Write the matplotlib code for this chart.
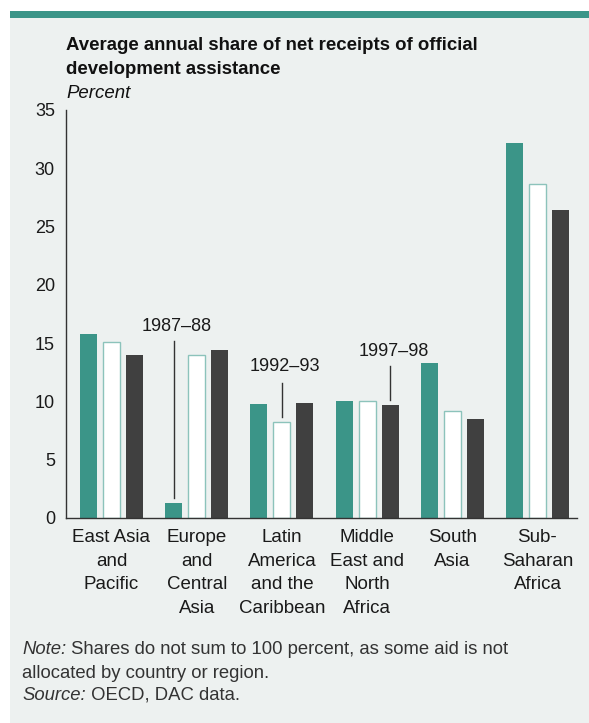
import matplotlib.pyplot as plt
import matplotlib.patches as mpatches
import numpy as np

plt.rcParams['font.family'] = ['Liberation Sans', 'DejaVu Sans']

regions = ['East Asia\nand\nPacific', 'Europe\nand\nCentral\nAsia',
           'Latin\nAmerica\nand the\nCaribbean', 'Middle\nEast and\nNorth\nAfrica',
           'South\nAsia', 'Sub-\nSaharan\nAfrica']
periods = ['1987–88', '1992–93', '1997–98']
share_1987 = [15.75, 1.25, 9.8, 10.0, 13.3, 32.2]
share_1992 = [15.1, 14.0, 8.25, 10.0, 9.2, 28.65]
share_1997 = [14.0, 14.4, 9.85, 9.7, 8.5, 26.45]
yticks = [0, 5, 10, 15, 20, 25, 30, 35]

teal = '#3b9588'
dark = '#404040'
bg = '#edf1f0'
txt = '#1a1a1a'

fig = plt.figure(figsize=(5.89, 7.23), dpi=100)
fig.patch.set_facecolor('white')

# grey panel + teal strip on top
fig.patches.append(mpatches.Rectangle((10/589, 0), 1, (723-18)/723, transform=fig.transFigure,
                                      facecolor=bg, edgecolor='none', zorder=-10))
fig.patches.append(mpatches.Rectangle((10/589, (723-18)/723), 1, 7/723, transform=fig.transFigure,
                                      facecolor=teal, edgecolor='none', zorder=-10))

ax = fig.add_axes([66/589, (723-518)/723, (577-66)/589, (518-110)/723])
ax.set_facecolor('none')

x = np.arange(len(regions))
w = 0.2
off = 0.27
ax.bar(x - off, share_1987, w, color=teal, edgecolor='none', zorder=2)
ax.bar(x, share_1992, w, color='white', edgecolor='#8cc3bb', linewidth=1.0, zorder=2)
ax.bar(x + off, share_1997, w, color=dark, edgecolor='none', zorder=2)

ax.set_xlim(-0.534, 5.464)
ax.set_ylim(0, 35)
ax.set_yticks(yticks)
ax.set_yticklabels([str(t) for t in yticks], fontsize=13)
ax.set_xticks(x)
ax.set_xticklabels(regions, fontsize=13.5, linespacing=1.5, va='top')
ax.tick_params(axis='both', length=0, colors=txt)
ax.tick_params(axis='y', pad=8)
ax.tick_params(axis='x', pad=8)
for s in ['top', 'right']:
    ax.spines[s].set_visible(False)
for s in ['left', 'bottom']:
    ax.spines[s].set_color('#333333')
    ax.spines[s].set_linewidth(1.0)

# period callouts
calls = [(1, -off, share_1987[1], 15.2, 16.4, 0),
         (2, 0, share_1992[2], 11.6, 13.0, 1),
         (3, off, share_1997[3], 13.0, 14.3, 2)]
for i, dx, v, top, ty, k in calls:
    ax.plot([i + dx, i + dx], [v + 0.45, top], color='#333333', lw=1.0, zorder=3)
    ax.text(i + dx + 0.04, ty, periods[k], ha='center', va='center', fontsize=13, color=txt)

# title
fig.text(66/589, 1 - 45/723, 'Average annual share of net receipts of official',
         fontsize=13.4, fontweight='bold', va='center', ha='left', color='#111111')
fig.text(66/589, 1 - 69/723, 'development assistance',
         fontsize=13.4, fontweight='bold', va='center', ha='left', color='#111111')
fig.text(66/589, 1 - 93/723, 'Percent', fontsize=13.4, style='italic', va='center', ha='left',
         color='#111111')

# notes
t1 = fig.text(22/589, 1 - 654/723, 'Note:', fontsize=13.3, style='italic', va='baseline', color='#333333')
fig.add_artist(plt.Annotation(' Shares do not sum to 100 percent, as some aid is not', xy=(1, 0),
                              xycoords=t1, va='bottom', ha='left', fontsize=13.3, color='#333333'))
fig.text(22/589, 1 - 678/723, 'allocated by country or region.', fontsize=13.3, va='baseline',
         color='#333333')
t2 = fig.text(22/589, 1 - 700/723, 'Source:', fontsize=13.3, style='italic', va='baseline', color='#333333')
fig.add_artist(plt.Annotation(' OECD, DAC data.', xy=(1, 0), xycoords=t2,
                              va='bottom', ha='left', fontsize=13.3, color='#333333'))

fig.savefig('out.png', dpi=100, facecolor=fig.get_facecolor())
